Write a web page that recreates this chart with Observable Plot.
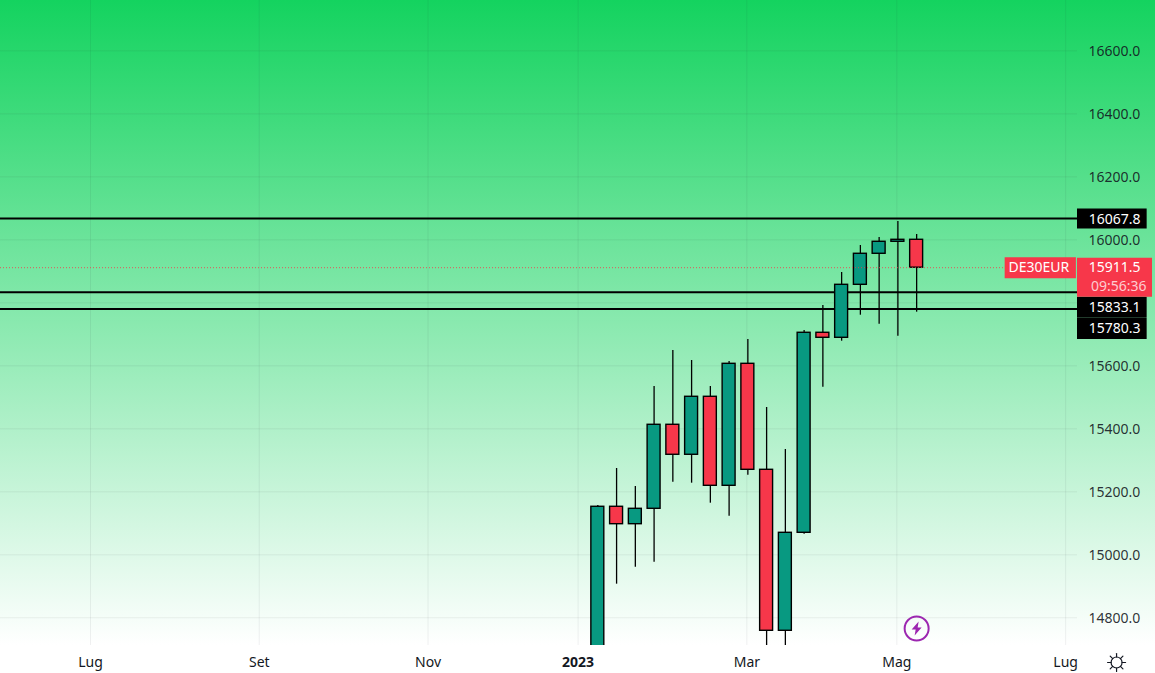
<!DOCTYPE html>
<html>
<head>
<meta charset="utf-8">
<script src="https://cdn.jsdelivr.net/npm/d3@7"></script>
<script src="https://cdn.jsdelivr.net/npm/@observablehq/plot@0.6"></script>
<style>html,body{margin:0;padding:0;background:#fff;overflow:hidden}</style>
</head>
<body>
<div id="chart"></div>
<script>
const weeks = ["2023-01-02","2023-01-09","2023-01-16","2023-01-23","2023-01-30","2023-02-06","2023-02-13","2023-02-20","2023-02-27","2023-03-06","2023-03-13","2023-03-20","2023-03-27","2023-04-03","2023-04-10","2023-04-17","2023-04-24","2023-05-01"];
const opens  = [14640,15152.4,15097.1,15146,15412.7,15317.5,15501.6,15219,15606.3,15269.8,14758.7,15069.8,15704.8,15688.9,15857.1,15955.6,15993.7,16000];
const closes = [15152.4,15097.1,15146,15412.7,15317.5,15501.6,15219,15606.3,15269.8,14758.7,15069.8,15704.8,15688.9,15857.1,15955.6,15993.7,16000,15911.5];
const highs  = [15156.5,15274,15216.8,15534.3,15648.6,15616.8,15534.3,15613.7,15683.5,15467.6,15334.3,15712.1,15791.4,15896.2,15981.9,16007.3,16058.1,16016.8];
const lows   = [14600,14906.7,14960.6,14976.5,15230.5,15227.3,15163.8,15122.5,15252.7,14650,14600,15065.4,15532.1,15678.1,15760.6,15732.1,15694,15770.2];

const levels = [16067.8,15833.1,15780.3];
const lastPrice = 15911.5;
const priceGrid = [14800,15000,15200,15400,15600,15800,16000,16200,16400,16600];
const priceLabels = [14800,15000,15200,15400,15600,16000,16200,16400,16600];
const monthDates = ["2022-06-27","2022-08-29","2022-10-31","2023-02-27","2023-04-24","2023-06-26"];
const monthNames = ["Lug","Set","Nov","Mar","Mag","Lug"];
const yearDate = "2022-12-26";
const yearName = "2023";
const countdown = "09:56:36";
const symbol = "DE30EUR";

const GREEN = "#089981", RED = "#f7374a", INK = "#131722", FONT = "'Noto Sans', sans-serif";
const D = s => new Date(s + "T00:00:00Z");
const hoursFrom = (d, h) => new Date(d.getTime() + h * 3600000);

const candles = weeks.map((w, i) => ({date: hoursFrom(D(w), 9), open: opens[i], close: closes[i], high: highs[i], low: lows[i]}));
const monthTicks = monthDates.map(D);
const allTicks = [...monthTicks, D(yearDate)];
const monthLabel = d => monthNames[monthTicks.findIndex(t => +t === +d)];

const scaleStart = hoursFrom(D("2022-05-24"), 10), scaleEnd = hoursFrom(D("2023-06-30"), 10);
const tagEnd = hoursFrom(D("2023-07-26"), 10), lastEnd = hoursFrom(D("2023-07-28"), 10);
const symbolStart = hoursFrom(D("2023-06-03"), 10), symbolEnd = D("2023-06-30");
const symbolMid = D("2023-06-16");
const badgeDate = hoursFrom(D("2023-05-01"), 9), badgePrice = 14766;
const sunDate = D("2023-07-15"), sunPrice = 14658;
const sunAngles = [0,45,90,135,180,225,270,315];

const boltShape = {
  draw(c) { c.moveTo(2,-7); c.lineTo(-5,1); c.lineTo(-1,1); c.lineTo(-2,7); c.lineTo(5,-1); c.lineTo(1,-1); c.closePath(); },
  r: 0
};
const rayShape = {
  draw(c) { c.moveTo(0,-5.5); c.lineTo(0,-9); },
  r: 0
};

const tagText = {frameAnchor: "right", dx: 63, textAnchor: "end", fill: "#fff", fontSize: 14};

const chart = Plot.plot({
  width: 1155, height: 673,
  marginLeft: 0, marginRight: 78, marginTop: 0, marginBottom: 28,
  style: {background: "linear-gradient(#14d35f 0px, #ffffff 645px)", fontFamily: FONT, overflow: "visible"},
  x: {type: "utc", domain: [scaleStart, scaleEnd]},
  y: {domain: [14712, 16759.7]},
  marks: [
    Plot.gridX(allTicks, {stroke: "#2a2e39", strokeOpacity: 0.07, strokeWidth: 1}),
    Plot.gridY(priceGrid, {stroke: "#2a2e39", strokeOpacity: 0.07, strokeWidth: 1}),
    Plot.ruleY(levels, {stroke: "#000", strokeWidth: 2}),
    Plot.ruleX(candles, {x: "date", y1: "low", y2: "high", stroke: "#000", strokeWidth: 1.3, clip: "frame"}),
    Plot.rect(candles, {
      x1: d => hoursFrom(d.date, -58), x2: d => hoursFrom(d.date, 58),
      y1: "open", y2: "close",
      fill: d => d.close >= d.open ? GREEN : RED,
      stroke: "#000", strokeWidth: 1.4, clip: "frame"
    }),
    Plot.ruleY([lastPrice], {stroke: RED, strokeOpacity: 0.8, strokeWidth: 1, strokeDasharray: "1,2"}),

    Plot.axisY(priceLabels, {anchor: "right", label: null, tickSize: 0, tickPadding: 11, fontSize: 14, dy: 1,
      fill: INK, fillOpacity: 0.9, tickFormat: d => d.toFixed(1)}),
    Plot.axisX(monthTicks, {label: null, tickSize: 0, tickPadding: 12, fontSize: 14, fill: INK, tickFormat: monthLabel}),
    Plot.axisX([D(yearDate)], {label: null, tickSize: 0, tickPadding: 12, fontSize: 14, fill: INK, fontWeight: "bold", tickFormat: () => yearName}),

    // price-scale tags
    Plot.ruleY([levels[0]], {x1: scaleEnd, x2: tagEnd, stroke: "#000", strokeWidth: 20}),
    Plot.ruleY([levels[1]], {x1: scaleEnd, x2: tagEnd, stroke: "#000", strokeWidth: 21, dy: 15}),
    Plot.ruleY([levels[2]], {x1: scaleEnd, x2: tagEnd, stroke: "#000", strokeWidth: 21, dy: 19.5}),
    Plot.ruleY([lastPrice], {x1: scaleEnd, x2: lastEnd, stroke: RED, strokeWidth: 39, dy: 9.5}),
    Plot.ruleY([lastPrice], {x1: symbolStart, x2: symbolEnd, stroke: RED, strokeWidth: 21}),
    Plot.text([levels[0]], {y: d => d, text: d => d.toFixed(1), dy: 1, ...tagText}),
    Plot.text([levels[1]], {y: d => d, text: d => d.toFixed(1), dy: 15, ...tagText}),
    Plot.text([levels[2]], {y: d => d, text: d => d.toFixed(1), dy: 19.5, ...tagText}),
    Plot.text([lastPrice], {y: d => d, text: d => d.toFixed(1), dy: 0, ...tagText}),
    Plot.text([lastPrice], {y: d => d, text: () => countdown, ...tagText, dx: 69, dy: 19, fillOpacity: 0.75}),
    Plot.text([lastPrice], {x: symbolMid, y: d => d, text: () => symbol, fill: "#fff", fontSize: 14}),

    // lightning badge
    Plot.dot([badgeDate], {x: d => d, y: () => badgePrice, r: 12, stroke: "#9c27b0", strokeWidth: 2, fill: "none"}),
    Plot.vector([badgeDate], {x: d => d, y: () => badgePrice, length: 1, anchor: "start", shape: boltShape, fill: "#9c27b0", stroke: "none"}),

    // settings icon
    Plot.dot([sunDate], {x: d => d, y: () => sunPrice, r: 5.5, stroke: INK, strokeWidth: 1.2, fill: "none"}),
    Plot.vector(sunAngles, {x: () => sunDate, y: () => sunPrice, rotate: d => d, length: 1, anchor: "start", shape: rayShape, stroke: INK, strokeWidth: 1.2})
  ]
});
document.getElementById("chart").append(chart);
</script>
</body>
</html>
